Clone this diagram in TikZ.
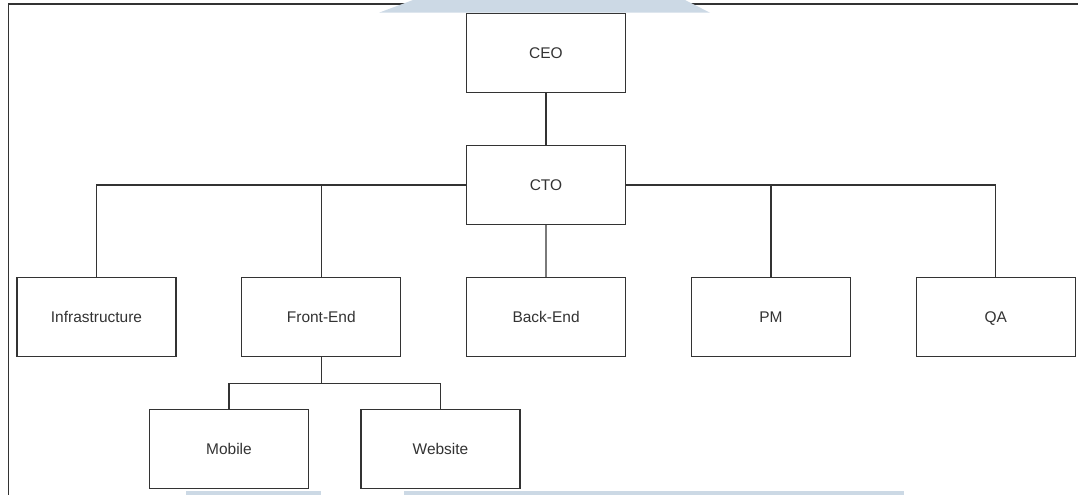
\documentclass[tikz,border=0pt]{standalone}
\usepackage{fontspec}
\setmainfont{Liberation Sans}
\definecolor{markblue}{RGB}{204,217,229}
\definecolor{linegray}{RGB}{51,51,51}
\tikzset{
  unit/.style={draw=linegray, line width=0.9pt, fill=white, minimum width=119.25pt, minimum height=59.25pt,
    inner sep=0pt, text height=10.4pt, text depth=2.4pt, font=\fontsize{11.6}{14}\selectfont, text=linegray},
  link/.style={draw=linegray, line width=0.9pt}
}
\begin{document}
\begin{tikzpicture}[x=0.75pt,y=-0.75pt]
\useasboundingbox (0,0) rectangle (1078,495);
\draw[link] (8.3,495) -- (8.3,4) -- (1078,4);
\fill[markblue] (379,12.7) -- (413,0) -- (685,0) -- (710,12.7) -- cycle;
\fill[markblue] (186,491) rectangle (321,495);
\fill[markblue] (404,491) rectangle (904,495);
\node[unit] (ceo) at (546,53) {CEO};
\node[unit] (cto) at (546,185) {CTO};
\foreach \name/\txt [count=\i from 0] in {infra/Infrastructure,front/Front-End,back/Back-End,pm/PM,qa/QA}
  \node[unit] (\name) at (96.5+224.8*\i,317) {\txt};
\node[unit] (mobile) at (229,449) {Mobile};
\node[unit] (website) at (440.5,449) {Website};
\draw[link] (ceo) -- (cto);
\draw[link] (cto) -- (back);
\draw[link] (infra.north) |- (cto.west);
\draw[link] (front.north) |- (cto.west);
\draw[link] (pm.north) |- (cto.east);
\draw[link] (qa.north) |- (cto.east);
\draw[link] (front.south) -- ++(0,26.7) -| (mobile.north);
\draw[link] (front.south) -- ++(0,26.7) -| (website.north);
\end{tikzpicture}
\end{document}
